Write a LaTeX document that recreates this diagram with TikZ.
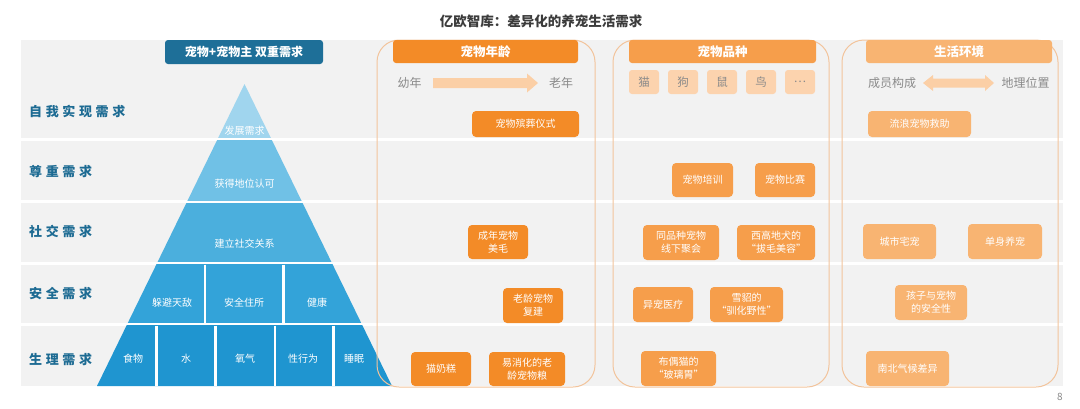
\documentclass[tikz,border=0pt]{standalone}
\usepackage{fontspec}
\setmainfont{Noto Sans CJK SC}
\definecolor{bandgray}{HTML}{F2F2F2}
\definecolor{pyrA}{HTML}{A0D5EE}
\definecolor{pyrB}{HTML}{70C1E6}
\definecolor{pyrC}{HTML}{4BAFDD}
\definecolor{pyrD}{HTML}{33A3D9}
\definecolor{pyrE}{HTML}{1F95D0}
\definecolor{rowblue}{HTML}{1D6B93}
\definecolor{hdrblue}{HTML}{1E6F98}
\definecolor{orA}{HTML}{F38B27}
\definecolor{orB}{HTML}{F69E4B}
\definecolor{orC}{HTML}{F8B472}
\definecolor{peach}{HTML}{FBCFA6}
\definecolor{sqfill}{HTML}{FCD3AE}
\definecolor{colline}{HTML}{F2C49C}
\definecolor{txtgray}{HTML}{8A8A8A}
\definecolor{titlegray}{HTML}{3C3C3C}
\begin{document}
\begin{tikzpicture}[x=1pt,y=-1pt,
  rowlabel/.style={anchor=west,text=rowblue,inner sep=0pt,font=\fontsize{13}{15}\selectfont\bfseries\addfontfeature{LetterSpace=28}},
  pyrtext/.style={text=white,inner sep=0pt,font=\fontsize{10}{12}\selectfont},
  hdr/.style={rounded corners=3pt,text=white,inner sep=0pt,minimum height=23pt,font=\fontsize{12.5}{14}\selectfont\bfseries},
  obox/.style={rounded corners=4pt,text=white,inner sep=0pt,align=center,font=\fontsize{10}{13}\selectfont},
  sq/.style={rounded corners=3pt,fill=sqfill,text=txtgray,inner sep=0pt,minimum width=30pt,minimum height=24pt,font=\fontsize{11.5}{13}\selectfont},
  graylab/.style={text=txtgray,inner sep=0pt,font=\fontsize{12}{14}\selectfont},
  colframe/.style={draw=colline,line width=1pt,rounded corners=22pt},
  gapline/.style={white,line width=2.6pt}
]
\useasboundingbox[fill=white] (0,0) rectangle (1080,408);

% title
\node[text=titlegray,inner sep=0pt,font=\fontsize{13.5}{15}\selectfont\bfseries] (title) at (541,21) {亿欧智库：差异化的养宠生活需求};

% bands
\foreach \a/\b in {40/137.5,140.5/200,203/261.5,264.5/322.5,325.5/386}
  \fill[bandgray] (21,\a) rectangle (1063,\b);

% pyramid layers
\foreach \a/\b/\c in {84/137.5/pyrA,140.5/200/pyrB,203/261.5/pyrC,264.5/322.5/pyrD,325.5/386/pyrE}{
  \begin{scope}
    \clip (0,\a) rectangle (1080,\b);
    \fill[\c] (97,386) -- (244.5,84) -- (392,386) -- cycle;
  \end{scope}
}
\foreach \x in {205,283.3}
  \draw[gapline] (\x,264.5) -- (\x,322.5);
\foreach \x in {156.7,215.7,275,333.3}
  \draw[gapline] (\x,325.5) -- (\x,386);

% pyramid texts
\node[pyrtext] (p1) at (244.5,130.7) {发展需求};
\node[pyrtext] (p2) at (244.5,183.3) {获得地位认可};
\node[pyrtext] (p3) at (244.5,243.3) {建立社交关系};
\node[pyrtext] (p41) at (172,302.7) {躲避天敌};
\node[pyrtext] (p42) at (244,302.7) {安全住所};
\node[pyrtext] (p43) at (317,302.7) {健康};
\node[pyrtext] (p51) at (133,359) {食物};
\node[pyrtext] (p52) at (186,359) {水};
\node[pyrtext] (p53) at (245,359) {氧气};
\node[pyrtext] (p54) at (303,359) {性行为};
\node[pyrtext] (p55) at (354,359) {睡眠};

% row labels
\node[rowlabel] (r1) at (29,111.7) {自我实现需求};
\node[rowlabel] (r2) at (29,171.7) {尊重需求};
\node[rowlabel] (r3) at (29,231.7) {社交需求};
\node[rowlabel] (r4) at (29,293.3) {安全需求};
\node[rowlabel] (r5) at (29,359.3) {生理需求};

% left header
\node[hdr,fill=hdrblue,minimum width=158pt,minimum height=24pt,font=\fontsize{12}{14}\selectfont\bfseries] (hl) at (244,52) {宠物+宠物主 双重需求};

% column frames
\draw[colframe] (377,40) rectangle (595,387);
\draw[colframe] (613,40) rectangle (829,387);
\draw[colframe] (842,40) rectangle (1058,387);

% column headers
\node[hdr,fill=orA,minimum width=185pt] (h1) at (485.5,51.5) {宠物年龄};
\node[hdr,fill=orB,minimum width=187pt] (h2) at (722.5,51.5) {宠物品种};
\node[hdr,fill=orC,minimum width=186pt] (h3) at (959,51.5) {生活环境};

% column 1
\node[graylab] (young) at (409.5,83) {幼年};
\node[graylab] (old) at (561,83) {老年};
\fill[peach] (433,78) -- (527,78) -- (527,73.5) -- (538,83) -- (527,92.5) -- (527,88) -- (433,88) -- cycle;
\node[obox,fill=orA,minimum width=107pt,minimum height=26pt] (a1) at (525.5,124) {宠物殡葬仪式};
\node[obox,fill=orA,minimum width=60pt,minimum height=34pt] (a2) at (498,242) {成年宠物\\美毛};
\node[obox,fill=orA,minimum width=60pt,minimum height=35pt] (a3) at (533,305.5) {老龄宠物\\复建};
\node[obox,fill=orA,minimum width=60pt,minimum height=34pt] (a4) at (441,369) {猫奶糕};
\node[obox,fill=orA,minimum width=76pt,minimum height=34pt] (a5) at (527,369) {易消化的老\\龄宠物粮};

% column 2
\node[sq] (s1) at (644,82) {猫};
\node[sq] (s2) at (683,82) {狗};
\node[sq] (s3) at (722,82) {鼠};
\node[sq] (s4) at (761,82) {鸟};
\node[sq] (s5) at (800,82) {…};
\node[obox,fill=orB,minimum width=61pt,minimum height=34pt] (b1) at (702.5,180) {宠物培训};
\node[obox,fill=orB,minimum width=60pt,minimum height=34pt] (b2) at (785,180) {宠物比赛};
\node[obox,fill=orB,minimum width=76pt,minimum height=35pt] (b3) at (681,242.5) {同品种宠物\\线下聚会};
\node[obox,fill=orB,minimum width=78pt,minimum height=35pt] (b4) at (776,242.5) {西高地犬的\\“拔毛美容”};
\node[obox,fill=orB,minimum width=60pt,minimum height=35pt] (b5) at (663,304.5) {异宠医疗};
\node[obox,fill=orB,minimum width=73pt,minimum height=35pt] (b6) at (746.5,304.5) {雪貂的\\“驯化野性”};
\node[obox,fill=orB,minimum width=75pt,minimum height=35pt] (b7) at (678.5,368.5) {布偶猫的\\“玻璃胃”};

% column 3
\node[graylab] (members) at (892,83) {成员构成};
\node[graylab] (geo) at (1025.5,83) {地理位置};
\fill[peach] (923,83) -- (933,75) -- (933,78.5) -- (985,78.5) -- (985,75) -- (994,83) -- (985,91) -- (985,87.5) -- (933,87.5) -- (933,91) -- cycle;
\node[obox,fill=orC,minimum width=103pt,minimum height=26pt] (c1) at (919.5,124) {流浪宠物救助};
\node[obox,fill=orC,minimum width=73pt,minimum height=35pt] (c2) at (899.5,241.5) {城市宅宠};
\node[obox,fill=orC,minimum width=74pt,minimum height=35pt] (c3) at (1005,241.5) {单身养宠};
\node[obox,fill=orC,minimum width=72pt,minimum height=35pt] (c4) at (931,302.5) {孩子与宠物\\的安全性};
\node[obox,fill=orC,minimum width=83pt,minimum height=35pt] (c5) at (907.5,368.5) {南北气候差异};

% page number
\node[text=txtgray,inner sep=0pt,font=\fontsize{10}{12}\selectfont] (pg) at (1060,397) {8};
\end{tikzpicture}
\end{document}
